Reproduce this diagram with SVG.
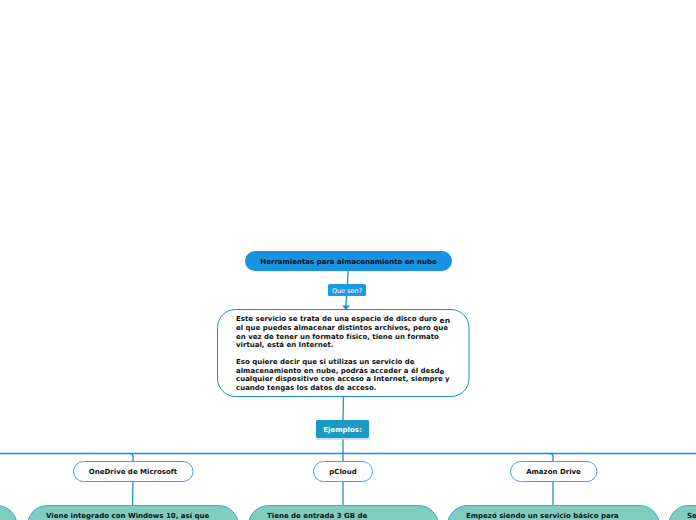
<svg xmlns="http://www.w3.org/2000/svg" width="696" height="520" viewBox="0 0 696 520">
<style>
  .t{font-family:"DejaVu Sans",Verdana,sans-serif;font-weight:bold;font-size:7px;fill:#111}
  .c{fill:none;stroke:#1a8fd8;stroke-width:1.3}
  .sub{fill:#fff;stroke:#3da2e6;stroke-width:1}
  .leaf{fill:#7fcdc1;stroke:#3da2e6;stroke-width:1}
</style>
<rect width="696" height="520" fill="#fff"/>
<g id="connectors">
  <path class="c" d="M348 271 L347.5 284"/>
  <path class="c" d="M346.5 296 L346 306"/>
  <path d="M342 305.5 L350 305.5 L346 310 Z" fill="#1a8fd8"/>
  <path class="c" d="M343.5 396 L343 420"/>
  <path class="c" d="M343 439 L343 461"/>
  <path class="c" d="M0 453.5 L696 453.5"/>
  <path class="c" d="M130 453.5 Q133 453.5 133 457 L133 461"/>
  <path class="c" d="M550 453.5 Q553 453.5 553 457 L553 461"/>
  <path class="c" d="M133 481 L132.5 505"/>
  <path class="c" d="M343 481 L343 505"/>
  <path class="c" d="M553 481 L553 505"/>
</g>
<g id="title">
  <rect x="245" y="251" width="207" height="20" rx="10" fill="#1793e2"/>
  <text class="t" x="348.5" y="263.5" text-anchor="middle">Herramientas para almacenamiento en nube</text>
</g>
<g id="label-que-son">
  <rect x="328" y="284" width="38" height="12" rx="1.5" fill="#1b9ae6"/>
  <text class="t" x="347" y="292.5" text-anchor="middle" style="fill:#fff;font-weight:normal;font-size:6.5px">Que son?</text>
</g>
<g id="definition">
  <rect class="sub" x="217.5" y="309.5" width="251.5" height="87" rx="18" style="stroke:#1a8fd8"/>
  <text class="t" x="236" y="321">Este servicio se trata de una especie de disco duro <tspan dy="1.5" font-size="7.5">en</tspan></text>
  <text class="t" x="236" y="330">el que puedes almacenar distintos archivos, pero que</text>
  <text class="t" x="236" y="338.5">en vez de tener un formato físico, tiene un formato</text>
  <text class="t" x="236" y="347">virtual, está en Internet.</text>
  <text class="t" x="236" y="364">Eso quiere decir que si utilizas un servicio de</text>
  <text class="t" x="236" y="372.5">almacenamiento en nube, podrás acceder a él desd<tspan dy="1.5">e</tspan></text>
  <text class="t" x="236" y="381">cualquier dispositivo con acceso a Internet, siempre y</text>
  <text class="t" x="236" y="389.5">cuando tengas los datos de acceso.</text>
</g>
<g id="ejemplos">
  <rect x="316" y="420" width="53" height="18" rx="1.5" fill="#1b9bc4"/>
  <path d="M316 439 L370 439" stroke="#8fc9e0" stroke-width="1"/>
  <text class="t" x="342.5" y="431.5" text-anchor="middle" style="fill:#fff">Ejemplos:</text>
</g>
<g id="onedrive">
  <rect class="sub" x="73.5" y="461.5" width="119.5" height="20" rx="10"/>
  <text class="t" x="133" y="474" text-anchor="middle">OneDrive de Microsoft</text>
</g>
<g id="pcloud">
  <rect class="sub" x="313.5" y="461.5" width="59" height="20" rx="10"/>
  <text class="t" x="343" y="474" text-anchor="middle">pCloud</text>
</g>
<g id="amazon">
  <rect class="sub" x="510.5" y="461.5" width="86.5" height="20" rx="10"/>
  <text class="t" x="553.5" y="474" text-anchor="middle">Amazon Drive</text>
</g>
<g id="leaf-left">
  <rect class="leaf" x="-200" y="505.5" width="217" height="40" rx="20"/>
</g>
<g id="leaf-onedrive">
  <rect class="leaf" x="27.5" y="505.5" width="211" height="40" rx="20"/>
  <text class="t" x="46" y="518">Viene integrado con Windows 10, así que</text>
</g>
<g id="leaf-pcloud">
  <rect class="leaf" x="248.5" y="505.5" width="190" height="40" rx="20"/>
  <text class="t" x="267" y="518">Tiene de entrada 3 GB de</text>
</g>
<g id="leaf-amazon">
  <rect class="leaf" x="447.5" y="505.5" width="212" height="40" rx="20"/>
  <text class="t" x="466" y="518">Empezó siendo un servicio básico para</text>
</g>
<g id="leaf-right">
  <rect class="leaf" x="668.5" y="505.5" width="220" height="40" rx="20"/>
  <text class="t" x="687" y="518">Se</text>
</g>
</svg>
